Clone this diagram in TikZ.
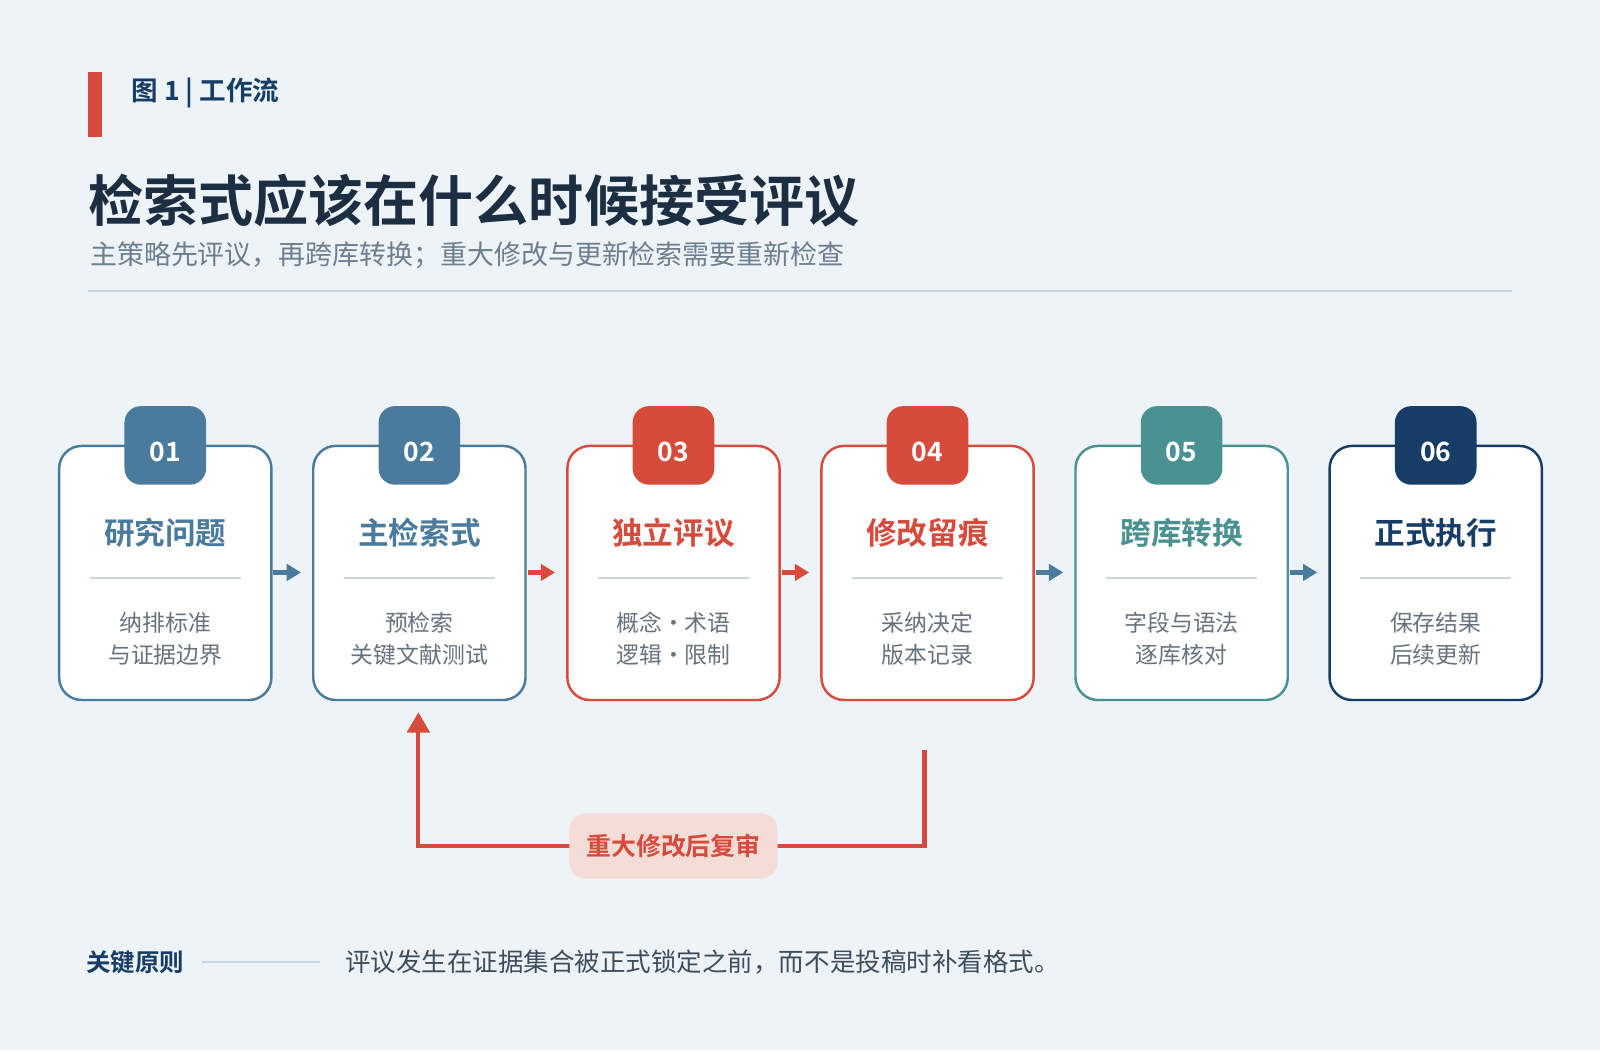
\documentclass[tikz,border=0pt]{standalone}
\usepackage{fontspec}
\setmainfont{Noto Sans CJK SC}[BoldFont={* Bold}]
\usetikzlibrary{arrows.meta}
\definecolor{bg}{HTML}{EEF3F8}
\definecolor{cblue}{HTML}{4A7B9D}
\definecolor{cred}{HTML}{D64B3B}
\definecolor{cteal}{HTML}{4A9292}
\definecolor{cnavy}{HTML}{163D66}
\definecolor{ttl}{HTML}{1C2E42}
\definecolor{sub}{HTML}{6B7F90}
\definecolor{gray}{HTML}{66737F}
\definecolor{rule}{HTML}{C9D7E0}
\definecolor{pinkbg}{HTML}{F5DDD7}
\begin{document}
\begin{tikzpicture}[x=0.5pt,y=-0.5pt,
  card/.style={draw=#1,line width=1.2pt,fill=white,rounded corners=11pt},
  tab/.style={fill=#1,rounded corners=8pt},
  num/.style={text=white,font=\bfseries\fontsize{13}{13}\selectfont},
  ctitle/.style={text=#1,font=\bfseries\fontsize{15}{15}\selectfont},
  csub/.style={text=gray,font=\fontsize{11.2}{16}\selectfont,align=center},
  flow/.style={draw=#1,line width=2pt,-{Triangle[length=7pt,width=8pt]}}]
\fill[bg] (0,0) rectangle (1568,1029);
\useasboundingbox (0,0) rectangle (1568,1029);
\fill[cred] (86,71) rectangle (100,134);
\node[anchor=west,text=cnavy,font=\bfseries\fontsize{13}{13}\selectfont] (hdr) at (122,91) {图 1 | 工作流};
\node[anchor=west,inner sep=0,text=ttl,font=\bfseries\fontsize{27}{27}\selectfont] (title) at (86,197) {检索式应该在什么时候接受评议};
\node[anchor=west,inner sep=0,text=sub,font=\fontsize{13.2}{13}\selectfont] (subt) at (88,250) {主策略先评议，再跨库转换；重大修改与更新检索需要重新检查};
\draw[rule,line width=1pt] (86,285) -- (1482,285);
\foreach \i/\c/\n/\t/\a/\b in {0/cblue/01/研究问题/纳排标准/与证据边界,1/cblue/02/主检索式/预检索/关键文献测试,2/cred/03/独立评议/概念·术语/逻辑·限制,3/cred/04/修改留痕/采纳决定/版本记录,4/cteal/05/跨库转换/字段与语法/逐库核对,5/cnavy/06/正式执行/保存结果/后续更新}{
  \pgfmathsetmacro{\xx}{58+249*\i}
  \draw[card=\c] (\xx,437) rectangle ++(208,249);
  \fill[tab=\c] (\xx+64,398) rectangle ++(80,77);
  \node[num] (n\n) at (\xx+104,443) {\n};
  \node[ctitle=\c] (t\n) at (\xx+104,522) {\t};
  \draw[rule,line width=1pt] (\xx+30,566) -- (\xx+178,566);
  \node[csub] (s\n) at (\xx+104,626) {\a\\\b};
  \coordinate (L\n) at (\xx,561);
  \coordinate (R\n) at (\xx+210,561);
}
\draw[flow=cblue] (R01) -- ++(27,0);
\draw[flow=cred] (R02) -- ++(27,0);
\draw[flow=cred] (R03) -- ++(27,0);
\draw[flow=cblue] (R04) -- ++(27,0);
\draw[flow=cblue] (R05) -- ++(27,0);
\coordinate (fb0) at (906,735);
\coordinate (fb1) at (410,698);
\draw[cred,line width=2pt,-{Triangle[length=10pt,width=11pt]}] (fb0) |- (660,829) -| (fb1);
\node[fill=pinkbg,rounded corners=8pt,minimum width=204*0.5pt,minimum height=64*0.5pt,text=cred,font=\bfseries\fontsize{12.2}{12}\selectfont] (lbl) at (660,829) {重大修改后复审};
\node[anchor=west,inner sep=0,text=cnavy,font=\bfseries\fontsize{12}{12}\selectfont] (key) at (84,943) {关键原则};
\draw[rule,line width=1.2pt] (198,943) -- (314,943);
\node[anchor=west,inner sep=0,text=ttl!85,font=\fontsize{12.5}{12}\selectfont] (keyt) at (338,943) {评议发生在证据集合被正式锁定之前，而不是投稿时补看格式。};
\end{tikzpicture}
\end{document}
